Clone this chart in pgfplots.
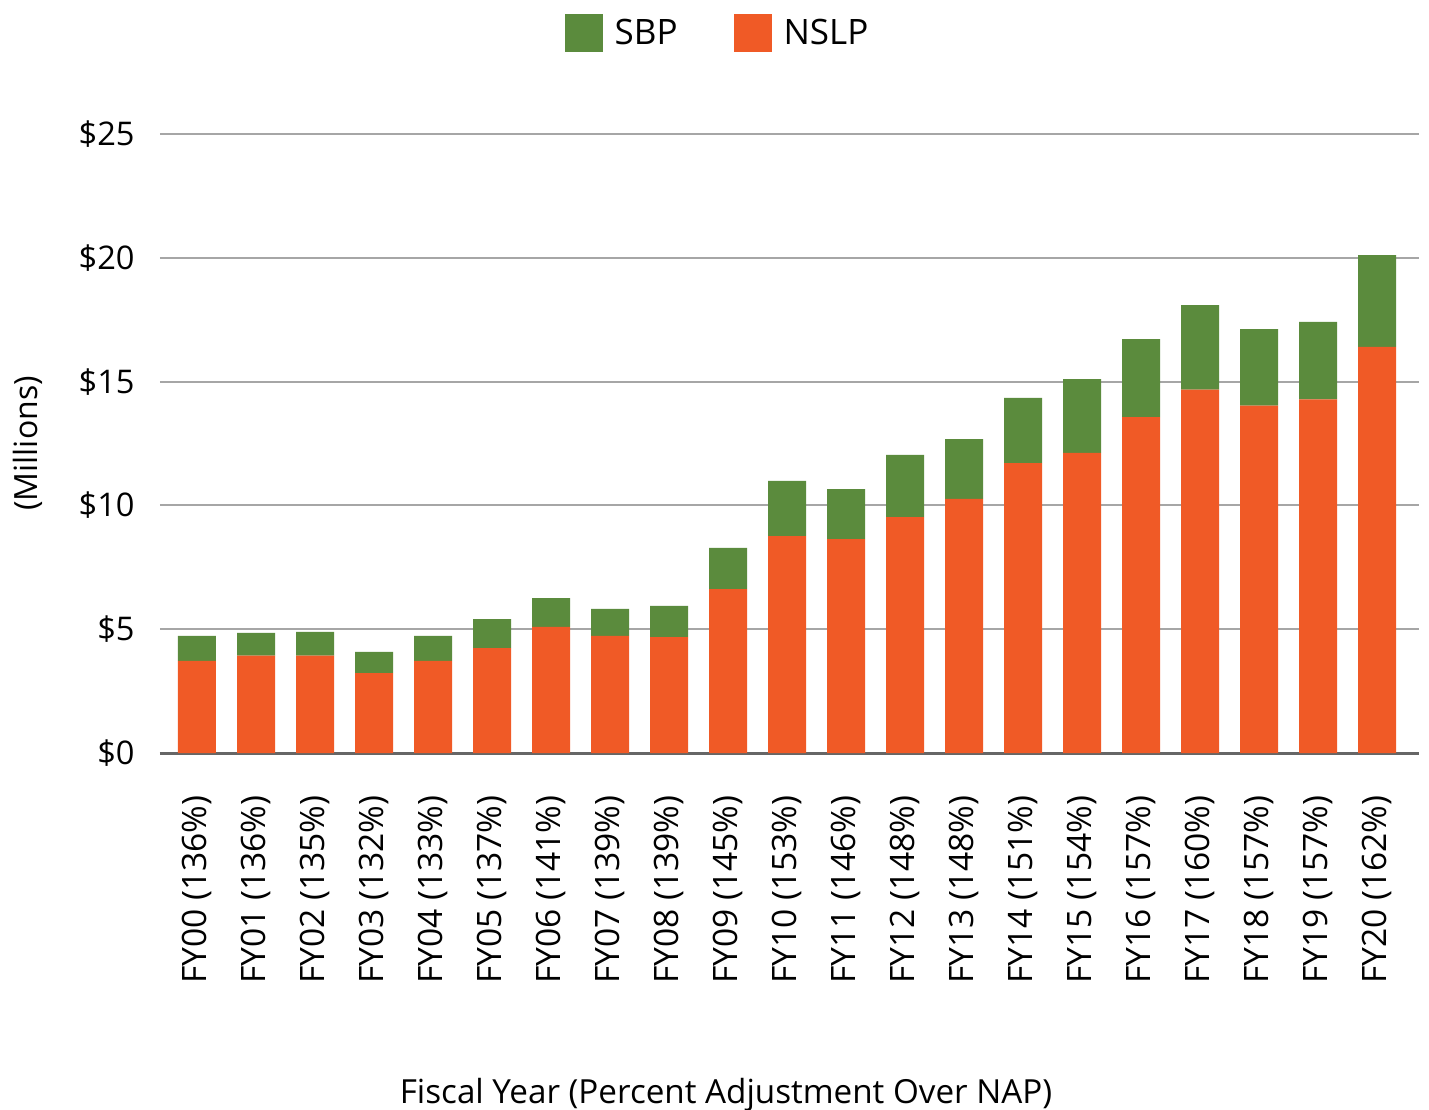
\documentclass[border=0pt]{standalone}
\usepackage{fontspec}
\setmainfont{Open Sans}
\usepackage{pgfplots}
\pgfplotsset{compat=1.18}
\definecolor{sbp}{HTML}{5B8B3D}
\definecolor{nslp}{HTML}{F05A26}
\definecolor{gridc}{HTML}{A6A6A6}
\definecolor{basec}{HTML}{666666}

\begin{document}
\begin{tikzpicture}
\path[use as bounding box] (-80bp,-178.5bp) rectangle (634.5bp,376.5bp);
\begin{axis}[
  at={(0,0)}, anchor=south west,
  scale only axis, width=629.5bp, height=309.5bp,
  ybar stacked, bar width=19bp,
  xmin=-0.627, xmax=20.71, ymin=0, ymax=25,
  xtick={0,...,20},
  xticklabels={FY00 (136\%),FY01 (136\%),FY02 (135\%),FY03 (132\%),FY04 (133\%),FY05 (137\%),FY06 (141\%),FY07 (139\%),FY08 (139\%),FY09 (145\%),FY10 (153\%),FY11 (146\%),FY12 (148\%),FY13 (148\%),FY14 (151\%),FY15 (154\%),FY16 (157\%),FY17 (160\%),FY18 (157\%),FY19 (157\%),FY20 (162\%)},
  ytick={0,5,10,15,20,25},
  yticklabels={\$0,\$5,\$10,\$15,\$20,\$25},
  axis x line*=bottom, axis y line*=left,
  y axis line style={draw=none},
  x axis line style={draw=basec, line width=1.5bp, -},
  major tick length=0pt,
  ymajorgrids, grid style={draw=gridc, line width=1bp},
  xticklabel style={rotate=90, anchor=east, inner sep=0pt, font=\fontsize{16.8bp}{19bp}\selectfont},
  xticklabel shift=21bp,
  yticklabel style={anchor=east, inner sep=0pt, font=\fontsize{16.3bp}{19bp}\selectfont},
  yticklabel shift=12.5bp,
  ylabel={(Millions)},
  every axis y label/.style={at={(axis description cs:-0.1048,0.5)}, rotate=90, anchor=center, font=\fontsize{16bp}{19bp}\selectfont},
  xlabel={Fiscal Year (Percent Adjustment Over NAP)},
  every axis x label/.style={at={(axis description cs:0.4496,-0.552)}, anchor=center, font=\fontsize{16.6bp}{19bp}\selectfont},
  legend columns=2,
  legend style={at={(axis description cs:0.4468,1.163)}, anchor=center, draw=none, fill=none,
    font=\fontsize{17.5bp}{20bp}\selectfont,
    /tikz/every even column/.append style={column sep=22bp},
    nodes={inner xsep=6bp}},
  legend image code/.code={\fill[#1, draw=none] (0bp,-9.5bp) rectangle (19bp,9.5bp);},
]
\addlegendimage{fill=sbp, draw=none}
\addlegendentry{SBP}
\addlegendimage{fill=nslp, draw=none}
\addlegendentry{NSLP}
\addplot[fill=nslp, draw=none, forget plot] coordinates {
(0,3.72) (1,3.93) (2,3.93) (3,3.23) (4,3.72) (5,4.24) (6,5.09) (7,4.73) (8,4.68) (9,6.62)
(10,8.76) (11,8.64) (12,9.53) (13,10.26) (14,11.71) (15,12.12) (16,13.57) (17,14.68) (18,14.03) (19,14.28) (20,16.40)};
\addplot[fill=sbp, draw=none, forget plot] coordinates {
(0,1.01) (1,0.92) (2,0.96) (3,0.85) (4,1.01) (5,1.17) (6,1.17) (7,1.09) (8,1.26) (9,1.66)
(10,2.23) (11,2.02) (12,2.51) (13,2.42) (14,2.63) (15,2.98) (16,3.15) (17,3.41) (18,3.09) (19,3.13) (20,3.71)};
\end{axis}
\end{tikzpicture}
\end{document}
